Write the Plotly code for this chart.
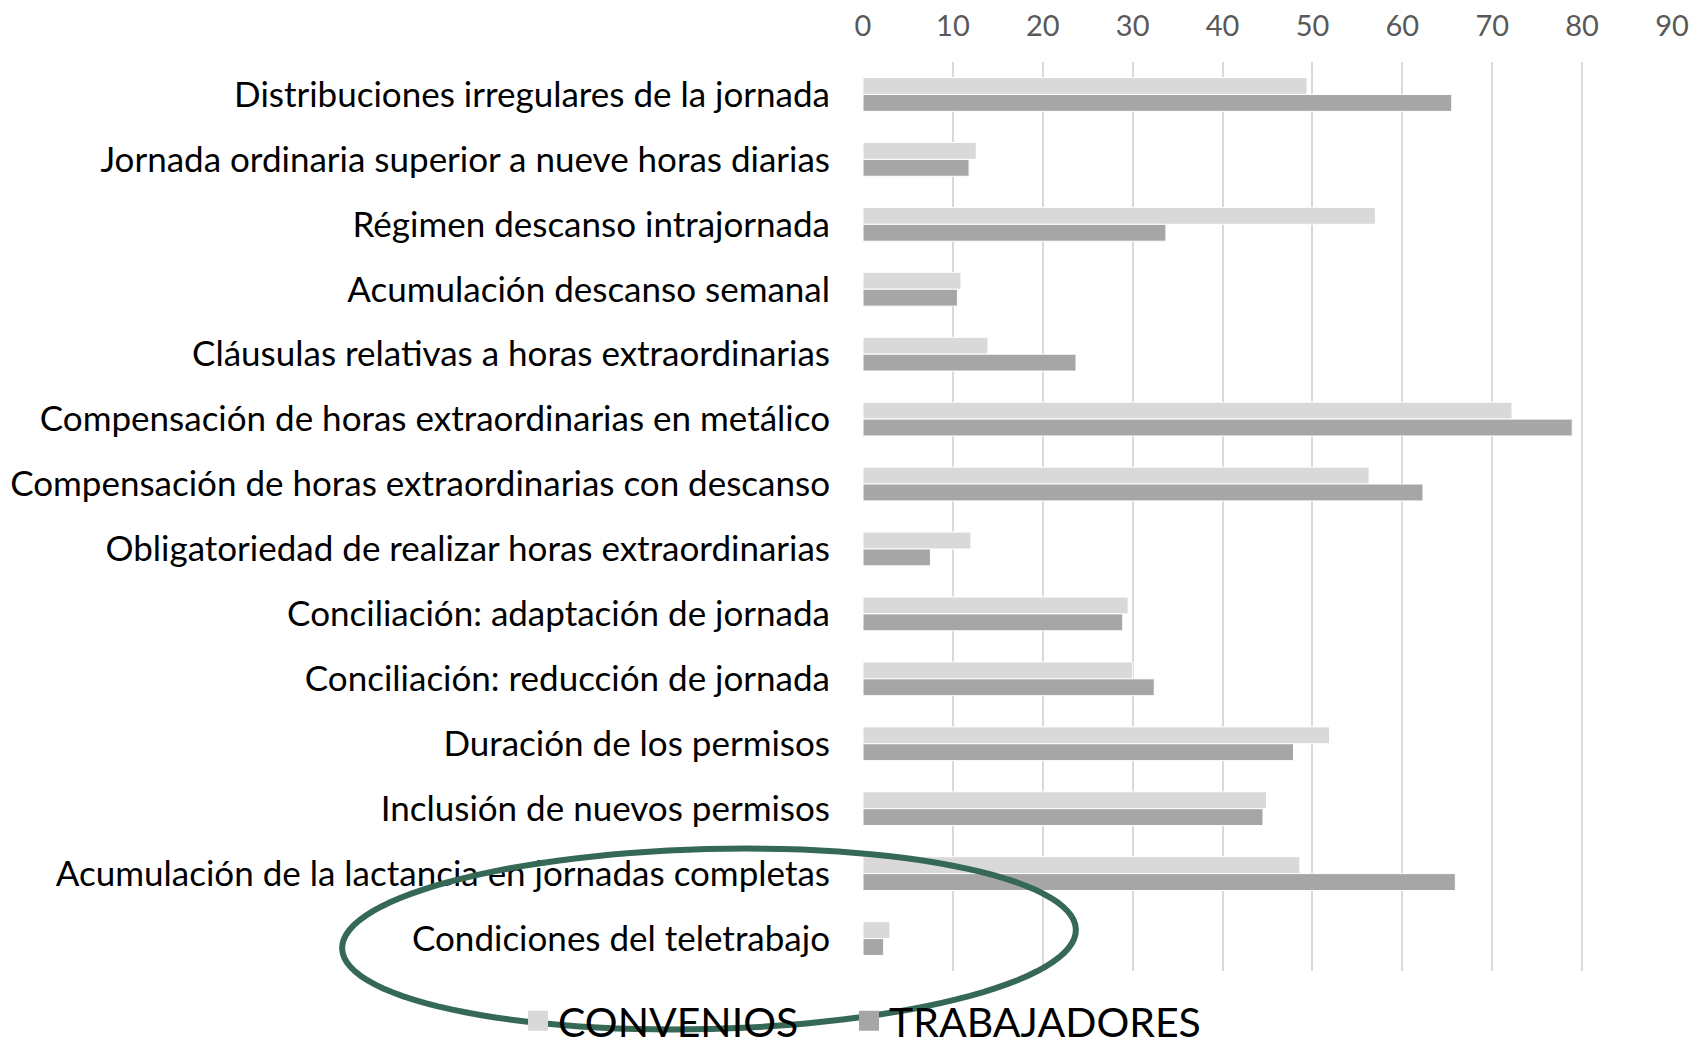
import plotly.graph_objects as go
import numpy as np

categories = [
    "Distribuciones irregulares de la jornada",
    "Jornada ordinaria superior a nueve horas diarias",
    "Régimen descanso intrajornada",
    "Acumulación descanso semanal",
    "Cláusulas relativas a horas extraordinarias",
    "Compensación de horas extraordinarias en metálico",
    "Compensación de horas extraordinarias con descanso",
    "Obligatoriedad de realizar horas extraordinarias",
    "Conciliación: adaptación de jornada",
    "Conciliación: reducción de jornada",
    "Duración de los permisos",
    "Inclusión de nuevos permisos",
    "Acumulación de la lactancia en jornadas completas",
    "Condiciones del teletrabajo",
]
convenios = [49.4, 12.6, 57.0, 10.9, 13.9, 72.2, 56.3, 12.0, 29.5, 30.0, 51.9, 44.9, 48.6, 3.0]
trabajadores = [65.5, 11.8, 33.7, 10.5, 23.7, 78.9, 62.3, 7.5, 28.9, 32.4, 47.9, 44.5, 65.9, 2.3]
series_names = ["CONVENIOS", "TRABAJADORES"]
series_colors = ["#D9D9D9", "#A6A6A6"]
x_ticks = [0, 10, 20, 30, 40, 50, 60, 70, 80, 90]

OFF = 8  # default page body margin
W, H = 1704 - 2 * OFF, 1055 - 2 * OFF
L, R, T, B = 863 - OFF, 1672 - OFF, 62 - OFF, 971 - OFF

FONT = "Lato, 'Open Sans', sans-serif"

fig = go.Figure()
for name, vals, col in zip(series_names, [convenios, trabajadores], series_colors):
    fig.add_trace(go.Bar(y=categories, x=vals, orientation="h", name=name, showlegend=False,
                         marker=dict(color=col, line=dict(color="#FFFFFF", width=1))))
# legend entries with larger square symbols, one legend each for exact placement
for name, col, lg in zip(series_names, series_colors, ["legend", "legend2"]):
    fig.add_trace(go.Scatter(x=[None], y=[None], mode="markers", name=name, legend=lg,
                             marker=dict(symbol="square", size=16, color=col,
                                         line=dict(color=col, width=4))))

def px2paper(px, py):
    # page pixel -> paper coordinates
    return (px - OFF - L) / (R - L), (B - (py - OFF)) / (B - T)

# highlight ellipse (annotation)
cx, cy, a, b, rot = 709, 939, 367, 90, np.deg2rad(-1.5)
t = np.linspace(0, 2 * np.pi, 121)
ex = cx + a * np.cos(t) * np.cos(rot) - b * np.sin(t) * np.sin(rot)
ey = cy + a * np.cos(t) * np.sin(rot) + b * np.sin(t) * np.cos(rot)
pts = [px2paper(x, y) for x, y in zip(ex, ey)]
path = "M " + " L ".join(f"{x:.5f},{y:.5f}" for x, y in pts) + " Z"

l1x, l1y = px2paper(518, 1021)
l2x, l2y = px2paper(849, 1021)
legend_common = dict(orientation="h", xanchor="left", yanchor="middle",
                     font=dict(size=41, color="#000000"), itemsizing="trace",
                     bgcolor="rgba(0,0,0,0)")

fig.update_layout(
    width=W, height=H,
    margin=dict(l=L, r=W - R, t=T, b=H - B, pad=0, autoexpand=False),
    paper_bgcolor="white", plot_bgcolor="white",
    barmode="group", bargap=0.48, bargroupgap=0,
    font=dict(family=FONT, color="#000000"),
    xaxis=dict(side="top", range=[0, 90], tickvals=x_ticks, showgrid=True,
               gridcolor="#D9D9D9", gridwidth=1.5, zeroline=False, showline=False,
               tickfont=dict(size=29, color="#595959"), ticklabelstandoff=19,
               fixedrange=True, automargin=False),
    yaxis=dict(autorange="reversed", showgrid=False, zeroline=False, showline=False,
               tickfont=dict(size=35, color="#000000"), ticklabelstandoff=32,
               fixedrange=True, automargin=False),
    legend=dict(x=l1x, y=l1y, **legend_common),
    legend2=dict(x=l2x, y=l2y, **legend_common),
    showlegend=True,
    shapes=[dict(type="path", path=path, xref="paper", yref="paper",
                 line=dict(color="#366856", width=6), layer="above")],
)

fig.write_html("out.html")
